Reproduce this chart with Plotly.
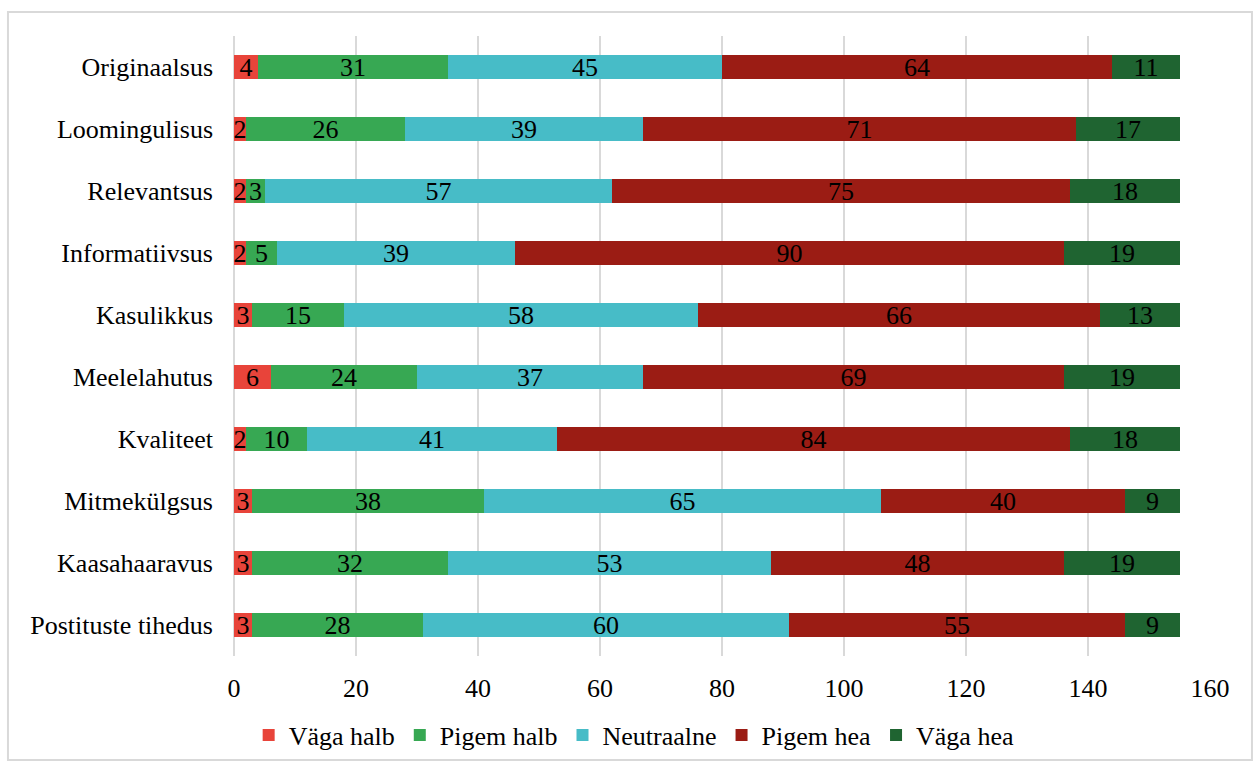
import plotly.graph_objects as go

categories = ["Originaalsus", "Loomingulisus", "Relevantsus", "Informatiivsus",
              "Kasulikkus", "Meelelahutus", "Kvaliteet", "Mitmekülgsus",
              "Kaasahaaravus", "Postituste tihedus"]

vaga_halb = [4, 2, 2, 2, 3, 6, 2, 3, 3, 3]
pigem_halb = [31, 26, 3, 5, 15, 24, 10, 38, 32, 28]
neutraalne = [45, 39, 57, 39, 58, 37, 41, 65, 53, 60]
pigem_hea = [64, 71, 75, 90, 66, 69, 84, 40, 48, 55]
vaga_hea = [11, 17, 18, 19, 13, 19, 18, 9, 19, 9]

series = [
    ("Väga halb", vaga_halb, "#e8443a"),
    ("Pigem halb", pigem_halb, "#37a853"),
    ("Neutraalne", neutraalne, "#47bcc7"),
    ("Pigem hea", pigem_hea, "#9b1c14"),
    ("Väga hea", vaga_hea, "#1f6431"),
]

x_ticks = [0, 20, 40, 60, 80, 100, 120, 140, 160]

FONT = "Liberation Serif, Times New Roman, serif"
SIZE = 26

fig = go.Figure()
for name, vals, color in series:
    fig.add_trace(go.Bar(
        y=categories, x=vals, name=name, orientation="h",
        marker=dict(color=color, line=dict(width=0)),
        text=[str(v) for v in vals], textposition="inside",
        insidetextanchor="middle", constraintext="none", textangle=0,
        textfont=dict(color="black", size=SIZE, family=FONT),
        width=0.39,
    ))

fig.update_layout(
    barmode="stack",
    width=1258, height=765,
    margin=dict(l=234, r=48, t=36, b=109, autoexpand=False),
    paper_bgcolor="white", plot_bgcolor="white",
    font=dict(family=FONT, size=SIZE, color="black"),
    bargap=0,
    legend=dict(orientation="h", x=0.41, xanchor="center",
                yref="container", y=0.039, yanchor="middle",
                font=dict(size=SIZE, family=FONT), itemwidth=30,
                bgcolor="rgba(0,0,0,0)", traceorder="normal"),
    xaxis=dict(range=[0, 160], tickvals=x_ticks, showgrid=True,
               gridcolor="#d9d9d9", gridwidth=1.5, zeroline=True,
               zerolinecolor="#d9d9d9", zerolinewidth=1.5, showline=False,
               ticks="", tickfont=dict(size=SIZE, family=FONT),
               ticklabelstandoff=14),
    yaxis=dict(categoryorder="array", categoryarray=categories,
               autorange="reversed", showgrid=False, ticks="",
               tickfont=dict(size=SIZE, family=FONT), ticklabelstandoff=20),
    shapes=[dict(type="rect", xref="paper", yref="paper",
                 x0=-0.2316, x1=1.043, y0=-0.1677, y1=1.0387,
                 line=dict(color="#d9d9d9", width=2), layer="below")],
)

fig.write_html("out.html")
